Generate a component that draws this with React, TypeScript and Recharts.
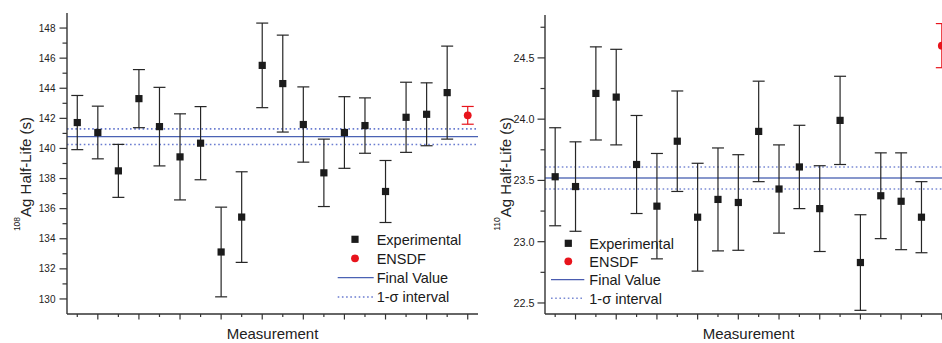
import React from 'react';
import { ScatterChart, Scatter, XAxis, YAxis, ErrorBar, ReferenceLine } from 'recharts';

const FONT = 'Arial, "Liberation Sans", Helvetica, sans-serif';

// measurement index on the x axis; 20 is the ENSDF reference value
const measurements = [1, 2, 3, 4, 5, 6, 7, 8, 9, 10, 11, 12, 13, 14, 15, 16, 17, 18, 19];
const ensdfIndex = 20;
const xTicks = [1, 2, 3, 4, 5, 6, 7, 8, 9, 10, 11, 12, 13, 14, 15, 16, 17, 18, 19, 20];

// 108Ag half-life (s)
const ag108HalfLife = [141.72, 141.06, 138.51, 143.31, 141.45, 139.44, 140.35, 133.12, 135.44, 145.52, 144.31, 141.59, 138.38, 141.06, 141.52, 137.14, 142.07, 142.27, 143.71];
const ag108Error = [1.8, 1.75, 1.76, 1.93, 2.61, 2.86, 2.43, 2.98, 3.01, 2.81, 3.22, 2.5, 2.24, 2.38, 1.84, 2.06, 2.33, 2.09, 3.09];
const ag108Ensdf = { value: 142.2, err: 0.59 };
const ag108Final = { value: 140.78, sigma: 0.52 };
const ag108Ticks = [130, 131, 132, 133, 134, 135, 136, 137, 138, 139, 140, 141, 142, 143, 144, 145, 146, 147, 148];

// 110Ag half-life (s)
const ag110HalfLife = [23.53, 23.45, 24.21, 24.18, 23.63, 23.29, 23.82, 23.2, 23.345, 23.32, 23.9, 23.43, 23.61, 23.27, 23.99, 22.83, 23.375, 23.33, 23.2];
const ag110Error = [0.4, 0.365, 0.38, 0.39, 0.4, 0.43, 0.41, 0.44, 0.42, 0.39, 0.41, 0.36, 0.34, 0.35, 0.36, 0.39, 0.35, 0.395, 0.29];
const ag110Ensdf = { value: 24.6, err: 0.18 };
const ag110Final = { value: 23.52, sigma: 0.09 };
const ag110Ticks = [22.5, 22.75, 23, 23.25, 23.5, 23.75, 24, 24.25, 24.5, 24.75];

const AXIS = '#333';

type Side = 'left' | 'right' | 'top' | 'bottom';

function tickRenderer(
  side: Side,
  isMajor: (v: number) => boolean,
  majorLen: number,
  minorLen: number,
  fmt?: (v: number) => string,
  fontSize = 10,
  gap = 3,
) {
  return (props: any) => {
    const { x, y, payload } = props;
    const v = payload.value as number;
    const major = isMajor(v);
    const len = major ? majorLen : minorLen;
    const horiz = side === 'left' || side === 'right';
    return (
      <g>
        {horiz ? (
          <line x1={x - len} y1={y} x2={x} y2={y} stroke={AXIS} strokeWidth={1.2} />
        ) : (
          <line x1={x} y1={y} x2={x} y2={y + len} stroke={AXIS} strokeWidth={1.2} />
        )}
        {fmt && major && (
          <text x={x - len - gap} y={y} dy="0.36em" textAnchor="end" fontSize={fontSize} fill="#222" fontFamily={FONT}>
            {fmt(v)}
          </text>
        )}
      </g>
    );
  };
}

const evenX = (v: number) => v % 2 === 0;

function Square(p: any) {
  return <rect x={p.cx - 3.6} y={p.cy - 3.6} width={7.2} height={7.2} fill="#1b1b1b" />;
}

function Dot(p: any) {
  return <circle cx={p.cx} cy={p.cy} r={3.9} fill="#e8141c" />;
}

function HalfLifeTitle({ cx, cy, iso }: { cx: number; cy: number; iso: string }) {
  return (
    <text transform={`rotate(-90 ${cx} ${cy})`} x={cx} y={cy} textAnchor="middle" fontFamily={FONT} fontSize={15} fill="#222">
      <tspan fontSize={8.5} dy={-11}>{iso}</tspan>
      <tspan dy={11}>Ag Half-Life (s)</tspan>
    </text>
  );
}

function Panel(props: {
  left: number;
  width: number;
  top: number;
  yAxisWidth: number;
  domain: [number, number];
  yTicks: number[];
  isMajorY: (v: number) => boolean;
  fmtY: (v: number) => string;
  yFont: number;
  yGap: number;
  values: number[];
  errors: number[];
  ensdf: { value: number; err: number };
  final: { value: number; sigma: number };
  finalColor: string;
  finalWidth: number;
  dotColor: string;
  iso: string;
  titleX: number;
}) {
  const exp = measurements.map((m, i) => ({ x: m, y: props.values[i], err: props.errors[i] }));
  const ref = [{ x: ensdfIndex, y: props.ensdf.value, err: props.ensdf.err }];
  return (
    <div style={{ position: 'absolute', left: props.left, top: 0 }}>
      <ScatterChart width={props.width} height={343} margin={{ top: props.top, right: 0, bottom: 0, left: 0 }}>
        <XAxis
          xAxisId={0}
          dataKey="x"
          type="number"
          domain={[0.5, 20.5]}
          allowDataOverflow
          ticks={xTicks}
          interval={0}
          tickSize={0}
          tickMargin={0}
          height={29}
          axisLine={{ stroke: AXIS, strokeWidth: 1.4 }}
          tick={tickRenderer('bottom', evenX, 5.5, 3)}
          label={{ value: 'Measurement', position: 'insideBottom', offset: 4, fontSize: 15, fill: '#222', fontFamily: FONT }}
        />
        <XAxis
          xAxisId="top"
          orientation="top"
          dataKey="x"
          type="number"
          domain={[0.5, 20.5]}
          allowDataOverflow
          ticks={xTicks}
          interval={0}
          tickSize={0}
          tickMargin={0}
          height={0}
          axisLine={{ stroke: AXIS, strokeWidth: 1.4 }}
          tick={tickRenderer('top', evenX, 5, 2.7)}
        />
        <YAxis
          yAxisId={0}
          dataKey="y"
          type="number"
          domain={props.domain}
          allowDataOverflow
          ticks={props.yTicks}
          interval={0}
          tickSize={0}
          tickMargin={0}
          width={props.yAxisWidth}
          axisLine={{ stroke: AXIS, strokeWidth: 1.4 }}
          tick={tickRenderer('left', props.isMajorY, 7.5, 4.5, props.fmtY, props.yFont, props.yGap)}
          label={<HalfLifeTitle cx={props.titleX} cy={174} iso={props.iso} />}
        />
        <YAxis
          yAxisId="right"
          orientation="right"
          dataKey="y"
          type="number"
          domain={props.domain}
          allowDataOverflow
          ticks={props.yTicks}
          interval={0}
          tickSize={0}
          tickMargin={0}
          width={0}
          axisLine={{ stroke: AXIS, strokeWidth: 1.4 }}
          tick={tickRenderer('right', props.isMajorY, 6, 4)}
        />
        <ReferenceLine y={props.final.value + props.final.sigma} stroke={props.dotColor} strokeWidth={1.6} strokeDasharray="1.6 2.6" />
        <ReferenceLine y={props.final.value - props.final.sigma} stroke={props.dotColor} strokeWidth={1.6} strokeDasharray="1.6 2.6" />
        <ReferenceLine y={props.final.value} stroke={props.finalColor} strokeWidth={props.finalWidth} />
        <Scatter data={exp} shape={Square} isAnimationActive={false}>
          <ErrorBar dataKey="err" direction="y" width={6} stroke="#262626" strokeWidth={1.2} isAnimationActive={false} />
        </Scatter>
        <Scatter data={ref} shape={Dot} isAnimationActive={false}>
          <ErrorBar dataKey="err" direction="y" width={6} stroke="#e8141c" strokeWidth={1.2} isAnimationActive={false} />
        </Scatter>
      </ScatterChart>
    </div>
  );
}

function LegendBox(props: { rows: number[]; x0: number; x1: number; mx: number; tx: number; lineColor: string; dotColor: string }) {
  const { rows, x0, x1, mx, tx } = props;
  const labels = ['Experimental', 'ENSDF', 'Final Value', '1-σ interval'];
  return (
    <g fontFamily={FONT} fontSize={14.5} fill="#1a1a1a">
      <rect x={mx - 3.6} y={rows[0] - 3.6} width={7.2} height={7.2} fill="#1b1b1b" />
      <circle cx={mx} cy={rows[1]} r={3.9} fill="#e8141c" />
      <line x1={x0} y1={rows[2]} x2={x1} y2={rows[2]} stroke={props.lineColor} strokeWidth={1.3} />
      <line x1={x0} y1={rows[3]} x2={x1} y2={rows[3]} stroke={props.dotColor} strokeWidth={1.6} strokeDasharray="1.6 2.6" />
      {labels.map((l, i) => (
        <text key={l} x={tx} y={rows[i]} dy="0.36em">{l}</text>
      ))}
    </g>
  );
}

export default function App() {
  return (
    <div style={{ position: 'absolute', left: 0, top: 0, width: 942, height: 343, overflow: 'hidden', background: '#fff' }}>
      <Panel
        left={0}
        width={478}
        top={13}
        yAxisWidth={67}
        domain={[129, 149]}
        yTicks={ag108Ticks}
        isMajorY={(v) => v % 2 === 0}
        fmtY={(v) => String(v)}
        yFont={10}
        yGap={4}
        values={ag108HalfLife}
        errors={ag108Error}
        ensdf={ag108Ensdf}
        final={ag108Final}
        finalColor="#4a62b4"
        finalWidth={1.3}
        dotColor="#6a7cd0"
        iso="108"
        titleX={30.5}
      />
      <Panel
        left={470}
        width={482}
        top={15}
        yAxisWidth={75}
        domain={[22.41, 24.85]}
        yTicks={ag110Ticks}
        isMajorY={(v) => Number.isInteger(v * 2)}
        fmtY={(v) => v.toFixed(1)}
        yFont={10.8}
        yGap={3}
        values={ag110HalfLife}
        errors={ag110Error}
        ensdf={ag110Ensdf}
        final={ag110Final}
        finalColor="#8797cc"
        finalWidth={2}
        dotColor="#7b8bd4"
        iso="110"
        titleX={40.5}
      />
      <svg width={942} height={343} style={{ position: 'absolute', left: 0, top: 0, pointerEvents: 'none' }}>
        <LegendBox rows={[239.3, 258.3, 277.7, 297]} x0={337.7} x1={373.7} mx={355} tx={376.7} lineColor="#4a62b4" dotColor="#6a7cd0" />
        <LegendBox rows={[243.3, 261.3, 279.7, 298.3]} x0={551} x1={584.3} mx={568.3} tx={589.3} lineColor="#4a5cb0" dotColor="#7b8bd4" />
      </svg>
    </div>
  );
}
